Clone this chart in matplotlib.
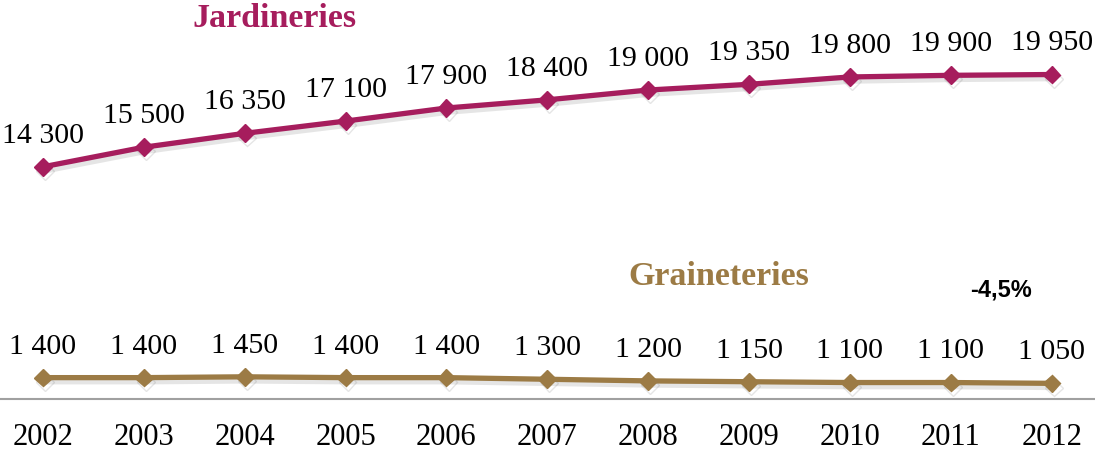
import matplotlib
matplotlib.use("Agg")
import matplotlib.pyplot as plt
import matplotlib.patheffects as pe

years = [2002, 2003, 2004, 2005, 2006, 2007, 2008, 2009, 2010, 2011, 2012]
jardineries = [14300, 15500, 16350, 17100, 17900, 18400, 19000, 19350, 19800, 19900, 19950]
graineteries = [1400, 1400, 1450, 1400, 1400, 1300, 1200, 1150, 1100, 1100, 1050]
series_names = ["Jardineries", "Graineteries"]
change_label = "-4,5%"

c_jard = "#A61D5D"
c_grain = "#9C7B45"

def fmt(v):
    return f"{v:,}".replace(",", " ")

fig = plt.figure(figsize=(10.95, 4.5), dpi=100)
ax = fig.add_axes([0, 51/450, 1, 399/450])
ax.set_xlim(2001.574, 2012.43)
ax.set_ylim(92, 24510)

shadow = [pe.SimpleLineShadow(offset=(1.5, -3), alpha=0.2, shadow_color="gray"), pe.Normal()]
for vals, col in [(jardineries, c_jard), (graineteries, c_grain)]:
    ax.plot(years, vals, color=col, lw=3.8, marker="D", markersize=9,
            path_effects=shadow, clip_on=False, zorder=3)
    for x, v in zip(years, vals):
        ax.annotate(fmt(v), (x, v), xytext=(0, 13), textcoords="offset points",
                    ha="center", va="bottom", fontsize=21.5,
                    family="Liberation Serif", color="black")

ax.text(2004.3, 23350, series_names[0], ha="center", va="center", fontsize=24.5,
        fontweight="bold", family="Liberation Serif", color=c_jard)
ax.text(2008.7, 7600, series_names[1], ha="center", va="center", fontsize=24.5,
        fontweight="bold", family="Liberation Serif", color=c_grain)
ax.text(2011.5, 6750, change_label, ha="center", va="center", fontsize=17,
        fontweight="bold", family="Liberation Sans", color="black")

for s in ["top", "left", "right"]:
    ax.spines[s].set_visible(False)
ax.spines["bottom"].set_color("#A0A0A0")
ax.spines["bottom"].set_linewidth(1.5)
ax.set_yticks([])
ax.set_xticks(years)
ax.set_xticklabels([str(y) for y in years], fontsize=22, family="Liberation Serif")
ax.tick_params(axis="x", length=0, pad=17)

fig.savefig("out.png", dpi=100)
